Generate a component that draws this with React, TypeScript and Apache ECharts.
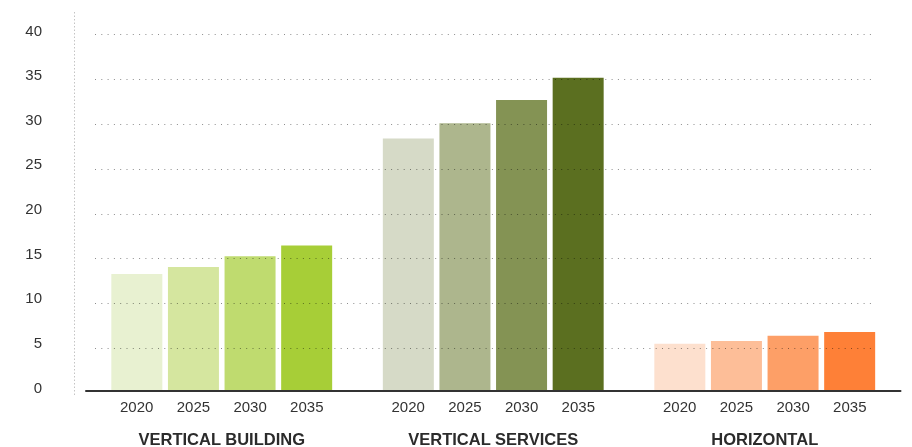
import React, { useEffect, useRef } from "react";
import * as echarts from "echarts";

const categories = ["VERTICAL BUILDING", "VERTICAL SERVICES", "HORIZONTAL"];
const years = ["2020", "2025", "2030", "2035"];
const values2020 = [13.1, 28.3, 5.3];
const values2025 = [13.9, 30.0, 5.6];
const values2030 = [15.1, 32.6, 6.2];
const values2035 = [16.3, 35.1, 6.6];
const yearValues = [values2020, values2025, values2030, values2035];
// colors per category, per year
const colorsBuilding = ["#e8f1d1", "#d5e69f", "#bfdb6f", "#a7ce37"];
const colorsServices = ["#d6dac7", "#adb68d", "#849354", "#5b6f20"];
const colorsHorizontal = ["#fde0ce", "#fdbe98", "#fd9f67", "#fe8037"];
const categoryColors = [colorsBuilding, colorsServices, colorsHorizontal];

const FONT = "'Liberation Sans', Arial, Helvetica, sans-serif";

export default function App() {
  const ref = useRef<HTMLDivElement>(null);
  useEffect(() => {
    if (!ref.current) return;
    const chart = echarts.init(ref.current, undefined, { renderer: "svg" });
    const series = years.map((y, yi) => ({
      name: y,
      type: "bar",
      xAxisIndex: 0,
      yAxisIndex: 0,
      barWidth: 51,
      barGap: "11%",
      z: 2,
      data: yearValues[yi].map((v, ci) => ({
        value: v,
        itemStyle: { color: categoryColors[ci][yi] },
      })),
    }));
    chart.setOption({
      animation: false,
      textStyle: { fontFamily: FONT },
      grid: [
        { left: 86, right: 11.5, top: 34, bottom: 53.5 },
        { left: 95, right: 37, top: 34, bottom: 53.5 },
      ],
      xAxis: [
        {
          type: "category",
          gridIndex: 0,
          data: categories,
          z: 5,
          axisLine: { lineStyle: { color: "#333", width: 2 } },
          axisTick: { show: false },
          axisLabel: {
            interval: 0,
            margin: 8,
            formatter: (v: string) =>
              years.map((y) => `{y|${y}}`).join("") + `\n{c|${v}}`,
            rich: {
              y: {
                width: 56.7,
                align: "center",
                fontSize: 15,
                lineHeight: 15,
                color: "#333",
                fontFamily: FONT,
              },
              c: {
                align: "center",
                fontSize: 16.5,
                fontWeight: "bold",
                lineHeight: 49,
                color: "#2b2b2b",
                fontFamily: FONT,
              },
            },
          },
        },
        {
          type: "category",
          gridIndex: 1,
          data: categories,
          show: false,
        },
      ],
      yAxis: [
        {
          type: "value",
          gridIndex: 0,
          min: 0,
          max: 40,
          interval: 5,
          axisLine: { show: false },
          axisTick: { show: false },
          splitLine: { show: false },
          axisLabel: {
            margin: 44,
            fontSize: 15,
            color: "#333",
            fontFamily: FONT,
            verticalAlign: "bottom",
            lineHeight: 8,
          },
        },
        {
          type: "value",
          gridIndex: 1,
          min: 0,
          max: 40,
          interval: 5,
          z: 3,
          axisLine: { show: false },
          axisTick: { show: false },
          axisLabel: { show: false },
          splitLine: {
            show: true,
            showMinLine: false,
            lineStyle: { color: "rgba(0,0,0,0.45)", type: [1, 5.3], width: 1 },
          },
        },
      ],
      graphic: [
        {
          type: "line",
          shape: { x1: 74.5, y1: 12, x2: 74.5, y2: 395 },
          style: { stroke: "#c4c4c4", lineDash: [1.5, 2], lineWidth: 1 },
          silent: true,
        },
      ],
      series,
    });
    return () => chart.dispose();
  }, []);
  return <div ref={ref} style={{ width: 912, height: 447, position: "fixed", left: 0, top: 0 }} />;
}
